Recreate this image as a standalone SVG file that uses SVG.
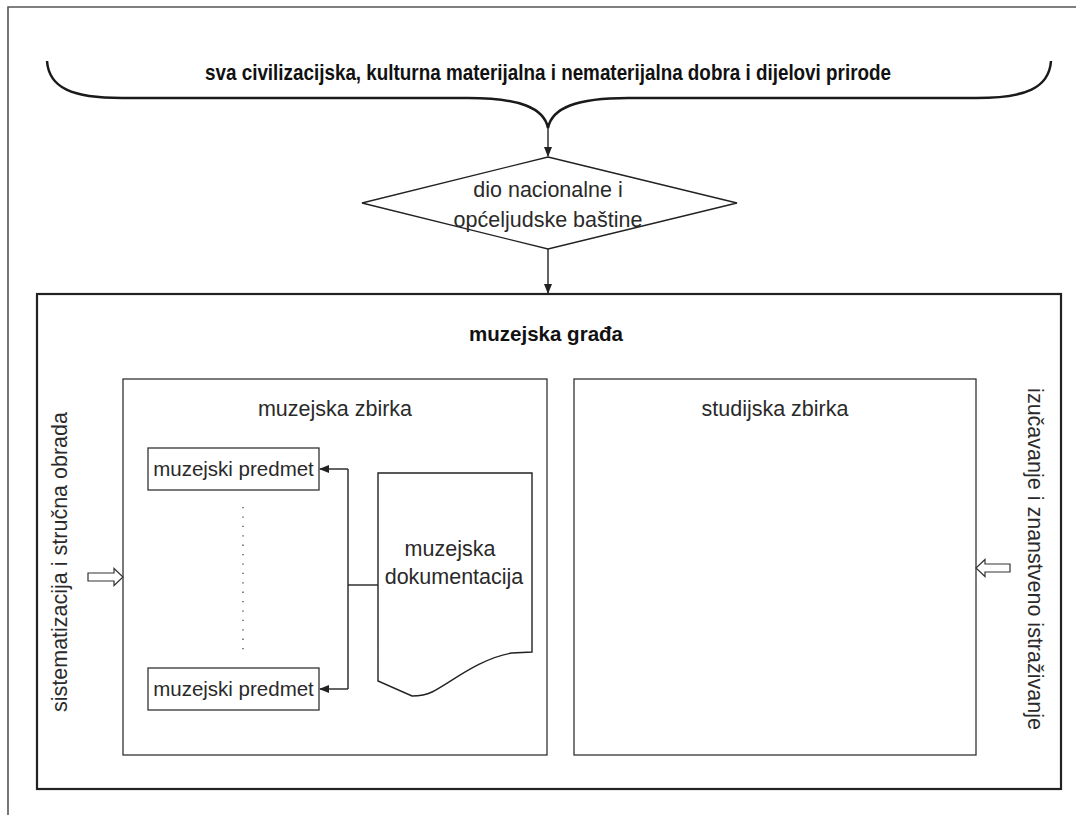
<svg xmlns="http://www.w3.org/2000/svg" width="1076" height="815" viewBox="0 0 1076 815">
<style>
.t{font-family:"Liberation Sans",Arial,sans-serif;font-size:21.5px;fill:#2a2a2a;text-anchor:middle}
.b{font-family:"Liberation Sans Narrow","Liberation Sans",Arial,sans-serif;font-weight:bold;fill:#111;text-anchor:middle}
.box{fill:none;stroke:#333;stroke-width:1.3}
.ln{fill:none;stroke:#222;stroke-width:1.4}
.hollow{fill:#fff;stroke:#333;stroke-width:1.2}
</style>
<defs>
<marker id="ah" markerWidth="10" markerHeight="10" refX="9" refY="5" orient="auto" markerUnits="userSpaceOnUse">
<path d="M0,1 L10,5 L0,9 Z" fill="#222"/>
</marker>
</defs>
<rect width="1076" height="815" fill="#fff"/>
<g id="frame">
<path d="M8,815 V7 H1076" fill="none" stroke="#555" stroke-width="1.6"/>
</g>
<g id="brace">
<path d="M47,61 C49,88 72,98 122,98 L468,98 C520,98 544,108 548,128 C552,108 576,98 628,98 L976,98 C1026,98 1049,88 1051,61" fill="none" stroke="#1a1a1a" stroke-width="2.5"/>
<text class="b" x="548" y="80" style="font-size:22px" textLength="686" lengthAdjust="spacingAndGlyphs">sva civilizacijska, kulturna materijalna i nematerijalna dobra i dijelovi prirode</text>
</g>
<g id="connectors">
<line class="ln" x1="548" y1="128" x2="548" y2="156" marker-end="url(#ah)"/>
<line class="ln" x1="548" y1="249" x2="548" y2="293" marker-end="url(#ah)"/>
<polyline class="ln" points="348,469 348,689"/>
<line class="ln" x1="348" y1="469" x2="320" y2="469" marker-end="url(#ah)"/>
<line class="ln" x1="348" y1="689" x2="320" y2="689" marker-end="url(#ah)"/>
<line class="ln" x1="348" y1="585" x2="378" y2="585"/>
<line x1="243" y1="507" x2="243" y2="654" stroke="#444" stroke-width="1.3" stroke-dasharray="1.3 8.1"/>
</g>
<g id="diamond">
<polygon points="548,157 737,203 548,249 362,203" fill="#fff" stroke="#222" stroke-width="1.4"/>
<text class="t" x="548" y="197">dio nacionalne i</text>
<text class="t" x="548" y="227">općeljudske baštine</text>
</g>
<g id="muzejska-grada">
<rect x="37" y="294" width="1024" height="495" fill="none" stroke="#222" stroke-width="2.2"/>
<text class="b" x="546" y="341" style="font-size:21px" textLength="154" lengthAdjust="spacingAndGlyphs">muzejska građa</text>
</g>
<g id="muzejska-zbirka">
<rect class="box" x="123" y="379" width="424" height="376"/>
<text class="t" x="335" y="416">muzejska zbirka</text>
</g>
<g id="studijska-zbirka">
<rect class="box" x="574" y="379" width="402" height="376"/>
<text class="t" x="775" y="416">studijska zbirka</text>
</g>
<g id="predmet-1">
<rect class="box" x="148" y="448" width="171" height="42"/>
<text class="t" x="233.5" y="476" style="font-size:20.5px">muzejski predmet</text>
</g>
<g id="predmet-2">
<rect class="box" x="148" y="668" width="171" height="42"/>
<text class="t" x="233.5" y="696" style="font-size:20.5px">muzejski predmet</text>
</g>
<g id="dokumentacija">
<path d="M378,473 H532 V652 L512,653 C480,658 450,683 432,692 C424,696 418,696 412,696 L378,681 Z" fill="#fff" stroke="#222" stroke-width="1.4"/>
<text class="t" x="450" y="556">muzejska</text>
<text class="t" x="454" y="584">dokumentacija</text>
</g>
<g id="sistematizacija">
<text class="t" transform="translate(67,562) rotate(-90)">sistematizacija i stručna obrada</text>
<path class="hollow" d="M88,573 H114 V568.5 L123,577 L114,585.5 V581 H88 Z"/>
</g>
<g id="izucavanje">
<text class="t" transform="translate(1028,559) rotate(90)">izučavanje i znanstveno istraživanje</text>
<path class="hollow" d="M1010,564 H985 V559.5 L976,568 L985,576.5 V572 H1010 Z"/>
</g>
</svg>
